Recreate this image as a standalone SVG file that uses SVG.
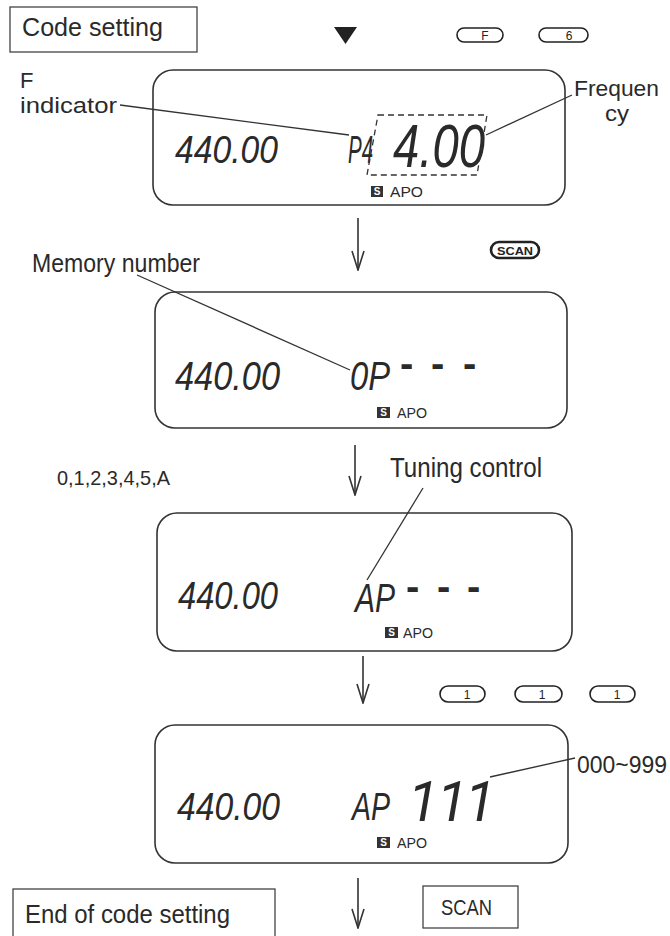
<svg xmlns="http://www.w3.org/2000/svg" width="670" height="936" viewBox="0 0 670 936">
<defs>
<marker id="vhead" viewBox="-20 -7 21 14" refX="0" refY="0" markerWidth="21" markerHeight="14" markerUnits="userSpaceOnUse" orient="auto">
<path d="M-19,-6 L0,0 L-19,6" fill="none" stroke="#333" stroke-width="1.6"/>
</marker>
</defs>
<style>
.lbl{font-family:"Liberation Sans Narrow","Liberation Sans",Arial,sans-serif;fill:#2a2a2a;}
.lcd{fill:none;stroke:#333;stroke-width:1.6;}
.seg{font-family:"Liberation Sans",Arial,sans-serif;font-style:italic;fill:#2a2a2a;}
.dash{font-family:"Liberation Sans",Arial,sans-serif;font-weight:bold;fill:#2a2a2a;font-size:40px;}
.sbox{fill:#333;}
.stx{font-family:"Liberation Sans",Arial,sans-serif;font-weight:bold;font-size:10px;fill:#fff;text-anchor:middle;}
.apo{font-family:"Liberation Sans Narrow","Liberation Sans",Arial,sans-serif;font-size:15px;fill:#2a2a2a;}
.btn{fill:#fff;stroke:#222;stroke-width:1.6;}
.btx{font-family:"Liberation Sans",Arial,sans-serif;font-size:12px;fill:#222;text-anchor:middle;}
.box{fill:#fff;stroke:#444;stroke-width:1.3;}
.ln{fill:none;stroke:#333;stroke-width:1.3;}
.arr{fill:none;stroke:#333;stroke-width:1.6;marker-end:url(#vhead);}
</style>
<rect width="670" height="936" fill="#fff"/>

<g id="code-setting">
<rect class="box" x="10" y="7" width="187" height="45"/>
<text class="lbl" x="22" y="36" font-size="26" textLength="141" lengthAdjust="spacingAndGlyphs">Code  setting</text>
</g>

<g id="pointer">
<polygon points="334,27 357,27 345.5,44" fill="#222"/>
</g>

<g id="key-f">
<rect class="btn" x="457" y="28" width="46" height="14" rx="7"/>
<text class="btx" x="485" y="40">F</text>
</g>
<g id="key-6">
<rect class="btn" x="539" y="28" width="49" height="14" rx="7"/>
<text class="btx" x="569" y="40">6</text>
</g>

<g id="lcd1">
<rect class="lcd" x="153" y="70" width="412" height="135" rx="20"/>
<text class="seg" x="175" y="163" font-size="39" textLength="103" lengthAdjust="spacingAndGlyphs">440.00</text>
<text class="seg" x="348" y="163" font-size="39" textLength="25" lengthAdjust="spacingAndGlyphs">P4</text>
<text class="seg" x="393" y="167" font-size="61" textLength="92" lengthAdjust="spacingAndGlyphs">4.00</text>
<polygon points="378,115 487,115 477,175 367,175" fill="none" stroke="#333" stroke-width="1.3" stroke-dasharray="6 4"/>
<rect class="sbox" x="371" y="186" width="12" height="11"/>
<text class="stx" x="377" y="195">S</text>
<text class="apo" x="390" y="197" textLength="33" lengthAdjust="spacingAndGlyphs">APO</text>
</g>

<g id="label-f-indicator">
<text class="lbl" font-size="22"><tspan x="20" y="88">F</tspan><tspan x="20" y="113" textLength="97" lengthAdjust="spacingAndGlyphs">indicator</tspan></text>
</g>
<g id="label-frequency">
<text class="lbl" font-size="22"><tspan x="574" y="96" textLength="85" lengthAdjust="spacingAndGlyphs">Frequen</tspan><tspan x="605" y="121" textLength="24" lengthAdjust="spacingAndGlyphs">cy</tspan></text>
</g>

<g id="key-scan">
<rect x="491" y="242" width="48" height="16" rx="8" fill="#fff" stroke="#222" stroke-width="2.6"/>
<text x="515" y="255" font-family="Liberation Sans, Arial, sans-serif" font-weight="bold" font-size="11" fill="#222" text-anchor="middle" textLength="36" lengthAdjust="spacingAndGlyphs">SCAN</text>
</g>

<g id="lcd2">
<rect class="lcd" x="155" y="292" width="412" height="136" rx="20"/>
<text class="seg" x="175" y="390" font-size="40" textLength="105" lengthAdjust="spacingAndGlyphs">440.00</text>
<text class="seg" x="350" y="390" font-size="40" textLength="40" lengthAdjust="spacingAndGlyphs">0P</text>
<text class="dash" x="400 431 463" y="377">---</text>
<rect class="sbox" x="377" y="407" width="13" height="11"/>
<text class="stx" x="383.5" y="416">S</text>
<text class="apo" x="397" y="418" textLength="30" lengthAdjust="spacingAndGlyphs">APO</text>
</g>

<g id="label-memory-number">
<text class="lbl" x="32" y="272" font-size="25" textLength="168" lengthAdjust="spacingAndGlyphs">Memory number</text>
</g>

<g id="label-digits">
<text class="lbl" x="57" y="485" font-size="21" textLength="113" lengthAdjust="spacingAndGlyphs">0,1,2,3,4,5,A</text>
</g>
<g id="label-tuning-control">
<text class="lbl" x="390" y="477" font-size="27" textLength="152" lengthAdjust="spacingAndGlyphs">Tuning control</text>
</g>

<g id="lcd3">
<rect class="lcd" x="157" y="513" width="415" height="138" rx="20"/>
<text class="seg" x="178" y="609" font-size="38" textLength="100" lengthAdjust="spacingAndGlyphs">440.00</text>
<text class="seg" x="355" y="612" font-size="40" textLength="40" lengthAdjust="spacingAndGlyphs">AP</text>
<text class="dash" x="406 437 467" y="600">---</text>
<rect class="sbox" x="385" y="627" width="13" height="11"/>
<text class="stx" x="391.5" y="636">S</text>
<text class="apo" x="403" y="638" textLength="30" lengthAdjust="spacingAndGlyphs">APO</text>
</g>

<g id="key-1a">
<rect class="btn" x="440" y="686" width="45" height="16" rx="8"/>
<text class="btx" x="467" y="699">1</text>
</g>
<g id="key-1b">
<rect class="btn" x="515" y="686" width="47" height="16" rx="8"/>
<text class="btx" x="542" y="699">1</text>
</g>
<g id="key-1c">
<rect class="btn" x="590" y="686" width="45" height="16" rx="8"/>
<text class="btx" x="617" y="699">1</text>
</g>

<g id="lcd4">
<rect class="lcd" x="155" y="725" width="413" height="138" rx="20"/>
<text class="seg" x="177" y="820" font-size="39" textLength="103" lengthAdjust="spacingAndGlyphs">440.00</text>
<text class="seg" x="352" y="820" font-size="39" textLength="38" lengthAdjust="spacingAndGlyphs">AP</text>
<text x="408 437 465" y="821" font-family="Roboto, 'Open Sans', sans-serif" font-style="italic" font-weight="400" font-size="56" fill="#2a2a2a">111</text>
<rect class="sbox" x="377" y="837" width="13" height="11"/>
<text class="stx" x="383.5" y="846">S</text>
<text class="apo" x="397" y="848" textLength="30" lengthAdjust="spacingAndGlyphs">APO</text>
</g>

<g id="label-range">
<text class="lbl" x="577" y="773" font-size="24" textLength="90" lengthAdjust="spacingAndGlyphs">000~999</text>
</g>

<g id="end-of-code-setting">
<rect class="box" x="13" y="889" width="262" height="60"/>
<text class="lbl" x="25" y="923" font-size="25" textLength="205" lengthAdjust="spacingAndGlyphs">End of code setting</text>
</g>

<g id="scan-box">
<rect class="box" x="423" y="886" width="95" height="42"/>
<text class="lbl" x="441" y="915" font-size="22" textLength="51" lengthAdjust="spacingAndGlyphs">SCAN</text>
</g>

<g id="connectors">
<line class="ln" x1="120" y1="105" x2="349" y2="135"/>
<line class="ln" x1="572" y1="95" x2="486" y2="135"/>
<line class="ln" x1="137" y1="275" x2="350" y2="370"/>
<line class="ln" x1="423" y1="488" x2="367" y2="580"/>
<line class="ln" x1="575" y1="758" x2="490" y2="777"/>
<line class="arr" x1="358" y1="218" x2="358" y2="270"/>
<line class="arr" x1="355" y1="445" x2="355" y2="495"/>
<line class="arr" x1="363" y1="656" x2="363" y2="703"/>
<line class="arr" x1="358" y1="878" x2="358" y2="928"/>
</g>
</svg>
